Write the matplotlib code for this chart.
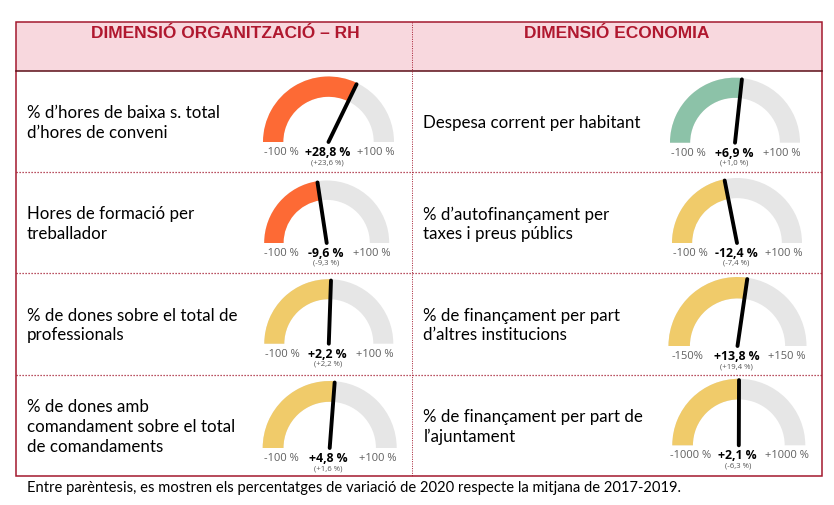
import numpy as np
import matplotlib.pyplot as plt
from matplotlib.patches import Wedge, Rectangle

W, H = 834, 505

headers = ['DIMENSIÓ ORGANITZACIÓ – RH', 'DIMENSIÓ ECONOMIA']

left_labels = ['% d’hores de baixa s. total\nd’hores de conveni',
               'Hores de formació per\ntreballador',
               '% de dones sobre el total de\nprofessionals',
               '% de dones amb\ncomandament sobre el total\nde comandaments']
right_labels = ['Despesa corrent per habitant',
                '% d’autofinançament per\ntaxes i preus públics',
                '% de finançament per part\nd’altres institucions',
                '% de finançament per part de\nl’ajuntament']

left_values = [28.8, -9.6, 2.2, 4.8]
right_values = [6.9, -12.4, 13.8, 2.1]
left_prev = [23.6, -9.3, 2.2, 1.6]
right_prev = [1.0, -7.4, 19.4, -6.3]
left_range = [100, 100, 100, 100]
right_range = [100, 100, 150, 1000]
left_min_labels = ['-100 %', '-100 %', '-100 %', '-100 %']
left_max_labels = ['+100 %', '+100 %', '+100 %', '+100 %']
right_min_labels = ['-100 %', '-100 %', '-150%', '-1000 %']
right_max_labels = ['+100 %', '+100 %', '+150 %', '+1000 %']
left_colors = ['#FD6A35', '#FD6A35', '#F0CB6A', '#F0CB6A']
right_colors = ['#8CC2A8', '#F0CB6A', '#F0CB6A', '#F0CB6A']

footnote = ('Entre parèntesis, es mostren els percentatges de variació de 2020 '
            'respecte la mitjana de 2017-2019.')

# layout (pixels)
x0, x1, xmid = 15.7, 821.7, 412.3
y_top, y_head = 22.3, 71
row_edges = [71, 172.3, 273.3, 375, 476]
left_geo = [(328.5, 142, 65.5), (326.7, 243, 62.5), (328.8, 343.7, 64.5), (329.7, 448, 67)]
right_geo = [(735, 142.7, 65), (737, 243, 65), (737.5, 346, 69), (738.8, 445.3, 66.5)]

red = '#A3192E'
txt_font = ['Lato', 'DejaVu Sans']
num_font = ['Open Sans', 'DejaVu Sans']

fig = plt.figure(figsize=(W / 100, H / 100), dpi=100)
ax = fig.add_axes([0, 0, 1, 1])
ax.set_xlim(0, W)
ax.set_ylim(H, 0)
ax.axis('off')

# table
ax.add_patch(Rectangle((x0, y_top), x1 - x0, y_head - y_top, facecolor='#F8D8DE', edgecolor='none'))
ax.add_patch(Rectangle((x0, y_top), x1 - x0, row_edges[-1] - y_top, facecolor='none',
                       edgecolor=red, lw=1.1))
ax.plot([x0, x1], [y_head, y_head], color='#5C0E18', lw=1.1)
for y in row_edges[1:-1]:
    ax.plot([x0, x1], [y, y], color=red, lw=0.9, ls=(0, (1, 1.4)))
ax.plot([xmid, xmid], [y_top, row_edges[-1]], color=red, lw=0.7, ls=(0, (1, 1.4)))

ax.text(225, 37.5, headers[0], ha='center', va='baseline', fontsize=12.5, fontweight='bold',
        color='#B0182F', family=['Liberation Sans', 'DejaVu Sans'], zorder=5)
ax.text(617, 37.5, headers[1], ha='center', va='baseline', fontsize=12.5, fontweight='bold',
        color='#B0182F', family=['Liberation Sans', 'DejaVu Sans'], zorder=5)


def fmt(v):
    return f'{v:+.1f} %'.replace('.', ',')


def gauge(cx, cy, r, value, lim, color, min_lab, max_lab, prev):
    f = (value + lim) / (2 * lim)
    a = 180 + 180 * f
    ax.add_patch(Wedge((cx, cy), r, 180, 360, width=0.31 * r, facecolor='#E6E6E6', lw=0))
    ax.add_patch(Wedge((cx, cy), r, 180, a, width=0.31 * r, facecolor=color, lw=0))
    t = np.radians(a)
    ax.plot([cx, cx + 0.98 * r * np.cos(t)], [cy, cy + 0.98 * r * np.sin(t)],
            color='black', lw=2.8, solid_capstyle='round')
    ly = cy + 10.5
    ax.text(cx - 0.72 * r, ly, min_lab, ha='center', va='center', fontsize=8,
            color='#606060', family=num_font)
    ax.text(cx + 0.72 * r, ly, max_lab, ha='center', va='center', fontsize=8,
            color='#606060', family=num_font)
    ax.text(cx - 1, ly, fmt(value), ha='center', va='center', fontsize=8.8,
            fontweight='bold', color='black', family=num_font)
    ax.text(cx - 1, cy + 20.5, '(' + fmt(prev) + ')', ha='center', va='center',
            fontsize=5.6, color='#555555', family=num_font)


for i in range(4):
    yc = (row_edges[i] + row_edges[i + 1]) / 2 + 1.5
    ax.text(26.7, yc, left_labels[i], ha='left', va='center', fontsize=12.2,
            color='black', family=txt_font, linespacing=1.28)
    ax.text(423.3, yc, right_labels[i], ha='left', va='center', fontsize=12.2,
            color='black', family=txt_font, linespacing=1.28)
    cx, cy, r = left_geo[i]
    gauge(cx, cy, r, left_values[i], left_range[i], left_colors[i],
          left_min_labels[i], left_max_labels[i], left_prev[i])
    cx, cy, r = right_geo[i]
    gauge(cx, cy, r, right_values[i], right_range[i], right_colors[i],
          right_min_labels[i], right_max_labels[i], right_prev[i])

ax.text(26.7, 488, footnote, ha='left', va='center', fontsize=10.6, color='black', family=txt_font)

fig.savefig('out.png', dpi=100)
